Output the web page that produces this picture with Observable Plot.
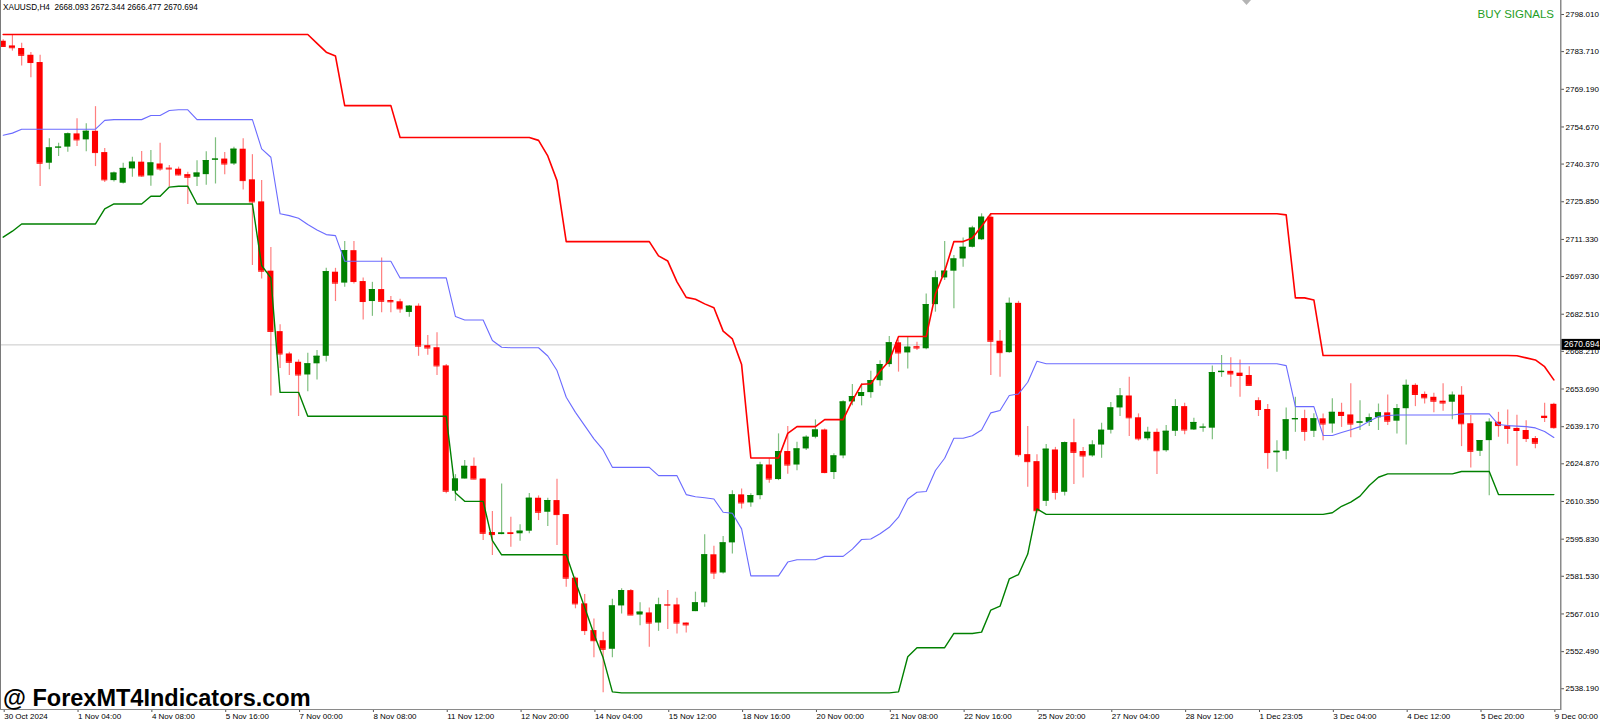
<!DOCTYPE html>
<html>
<head>
<meta charset="utf-8">
<script src="https://cdn.jsdelivr.net/npm/d3@7"></script>
<script src="https://cdn.jsdelivr.net/npm/@observablehq/plot@0.6"></script>
<style>
html,body{margin:0;padding:0;background:#fff;}
#chart{position:relative;width:1600px;height:723px;overflow:hidden;}
</style>
</head>
<body>
<div id="chart"></div>
<script>
const symbolText = "XAUUSD,H4\u00a0\u00a02668.093 2672.344 2666.477 2670.694";
const signalText = "BUY SIGNALS";
const watermarkText = "@ ForexMT4Indicators.com";
const currentPrice = 2670.694;

const priceTicks = [2798.01, 2783.71, 2769.19, 2754.67, 2740.37, 2725.85, 2711.33, 2697.03, 2682.51, 2668.21,
  2653.69, 2639.17, 2624.87, 2610.35, 2595.83, 2581.53, 2567.01, 2552.49, 2538.19];

const timeTickIndex = [0, 8, 16, 24, 32, 40, 48, 56, 64, 72, 80, 88, 96, 104, 112, 120, 128, 136, 144, 152, 160, 168];
const timeTickLabels = ["30 Oct 2024", "1 Nov 04:00", "4 Nov 08:00", "5 Nov 16:00", "7 Nov 00:00", "8 Nov 08:00",
  "11 Nov 12:00", "12 Nov 20:00", "14 Nov 04:00", "15 Nov 12:00", "18 Nov 16:00", "20 Nov 00:00", "21 Nov 08:00",
  "22 Nov 16:00", "25 Nov 20:00", "27 Nov 04:00", "28 Nov 12:00", "1 Dec 23:05", "3 Dec 04:00", "4 Dec 12:00",
  "5 Dec 20:00", "9 Dec 00:00"];

const openV = [
  2787.7, 2785.9, 2784.9, 2782.3, 2779.5, 2740.7, 2746.6, 2746.9, 2752.0, 2749.7,
  2753.0, 2744.8, 2734.0, 2733.0, 2738.5, 2741.1, 2735.8, 2740.4, 2738.8, 2738.4,
  2736.3, 2735.3, 2736.3, 2741.9, 2742.3, 2740.4, 2746.1, 2734.3, 2725.8, 2699.1,
  2675.8, 2667.2, 2664.0, 2659.1, 2663.4, 2666.3, 2698.7, 2694.5, 2707.0, 2695.1,
  2687.4, 2692.0, 2687.8, 2687.3, 2683.2, 2685.6, 2670.4, 2669.6, 2662.6, 2614.3,
  2619.0, 2623.9, 2619.0, 2598.4, 2597.6, 2598.3, 2597.9, 2598.9, 2611.6, 2606.2,
  2610.7, 2605.3, 2580.8, 2570.9, 2560.6, 2556.7, 2553.4, 2570.1, 2576.0, 2566.6,
  2567.4, 2563.5, 2570.6, 2570.5, 2563.5, 2567.9, 2571.3, 2589.8, 2582.8, 2594.4,
  2612.9, 2609.8, 2612.6, 2624.4, 2618.8, 2629.6, 2624.4, 2630.6, 2635.1, 2637.9,
  2621.5, 2627.9, 2648.7, 2650.8, 2652.3, 2656.9, 2663.1, 2671.5, 2667.6, 2670.0,
  2669.2, 2686.2, 2696.5, 2699.1, 2703.8, 2708.3, 2711.2, 2719.9, 2672.1, 2667.7,
  2686.7, 2628.4, 2625.7, 2610.4, 2630.2, 2613.9, 2633.0, 2629.6, 2627.9, 2632.1,
  2637.8, 2646.4, 2651.0, 2642.6, 2634.5, 2637.0, 2629.9, 2637.4, 2646.9, 2637.9,
  2638.7, 2638.6, 2660.0, 2660.5, 2659.8, 2658.9, 2649.2, 2645.8, 2629.1, 2629.7,
  2641.8, 2642.3, 2637.4, 2642.2, 2640.2, 2644.7, 2643.7, 2640.5, 2640.8, 2642.6,
  2644.5, 2641.3, 2646.1, 2655.1, 2651.6, 2650.5, 2649.0, 2648.6, 2651.3, 2640.3,
  2629.7, 2633.8, 2640.9, 2639.5, 2638.5, 2637.7, 2634.6, 2643.2, 2647.8];

const highV = [
  2788.3, 2790.3, 2786.9, 2783.4, 2782.3, 2750.1, 2748.4, 2752.3, 2757.8, 2755.9,
  2762.5, 2746.4, 2737.3, 2740.7, 2743.0, 2745.2, 2745.6, 2748.4, 2739.8, 2739.2,
  2737.2, 2741.7, 2745.1, 2750.5, 2744.8, 2746.9, 2750.1, 2744.0, 2734.0, 2708.2,
  2678.5, 2667.9, 2664.9, 2667.5, 2668.5, 2700.2, 2700.2, 2710.5, 2710.5, 2696.5,
  2694.8, 2704.2, 2689.3, 2688.3, 2685.9, 2686.5, 2674.3, 2675.4, 2663.1, 2620.7,
  2626.1, 2627.1, 2619.0, 2606.5, 2617.1, 2604.3, 2601.4, 2613.4, 2612.5, 2611.6,
  2618.9, 2605.3, 2581.2, 2574.5, 2565.1, 2560.0, 2572.7, 2576.7, 2576.4, 2571.3,
  2569.3, 2573.1, 2576.0, 2573.1, 2563.5, 2575.4, 2597.5, 2593.1, 2596.9, 2614.5,
  2615.2, 2613.3, 2625.5, 2626.8, 2636.4, 2639.2, 2633.2, 2635.7, 2641.8, 2638.3,
  2628.7, 2649.2, 2655.4, 2655.7, 2660.5, 2664.6, 2673.9, 2672.6, 2673.6, 2671.7,
  2690.3, 2699.1, 2710.5, 2705.1, 2711.9, 2716.4, 2721.2, 2721.2, 2676.2, 2688.8,
  2687.5, 2639.2, 2628.4, 2632.3, 2631.2, 2633.3, 2642.0, 2631.2, 2633.8, 2640.5,
  2648.5, 2653.9, 2658.2, 2644.1, 2639.0, 2638.3, 2639.6, 2649.6, 2648.2, 2642.4,
  2640.2, 2662.6, 2666.6, 2665.7, 2664.9, 2662.3, 2650.3, 2647.7, 2633.8, 2646.4,
  2650.5, 2645.5, 2644.2, 2644.1, 2649.9, 2648.2, 2655.7, 2649.2, 2644.1, 2647.9,
  2651.4, 2647.7, 2657.2, 2655.7, 2652.5, 2652.1, 2655.7, 2652.5, 2654.6, 2643.5,
  2633.8, 2642.2, 2644.7, 2645.6, 2643.6, 2641.5, 2635.4, 2648.2, 2648.2];

const lowV = [
  2785.4, 2783.9, 2778.2, 2773.6, 2731.7, 2738.2, 2743.3, 2744.9, 2747.1, 2745.1,
  2739.4, 2733.3, 2733.5, 2732.7, 2735.3, 2735.3, 2731.8, 2737.6, 2731.5, 2735.8,
  2724.8, 2731.7, 2732.2, 2732.7, 2736.3, 2739.8, 2730.4, 2701.3, 2696.1, 2651.0,
  2661.6, 2658.9, 2643.1, 2652.6, 2657.2, 2664.1, 2687.4, 2692.9, 2694.2, 2680.3,
  2681.7, 2683.1, 2683.1, 2682.9, 2681.3, 2666.3, 2666.7, 2658.9, 2613.3, 2610.4,
  2619.0, 2618.7, 2595.3, 2589.5, 2597.5, 2592.7, 2595.0, 2597.9, 2603.0, 2600.7,
  2593.4, 2577.3, 2569.0, 2558.7, 2550.1, 2536.6, 2550.1, 2567.0, 2566.4, 2562.5,
  2554.2, 2560.3, 2561.0, 2559.3, 2559.7, 2567.9, 2569.6, 2580.3, 2582.4, 2590.1,
  2607.5, 2608.1, 2611.0, 2617.4, 2618.4, 2620.8, 2622.2, 2630.0, 2634.5, 2621.0,
  2618.8, 2626.8, 2647.2, 2647.2, 2650.1, 2654.8, 2662.1, 2660.2, 2661.4, 2668.5,
  2668.8, 2683.3, 2695.5, 2684.6, 2700.6, 2708.0, 2710.9, 2658.9, 2658.2, 2667.5,
  2627.4, 2615.8, 2605.6, 2608.4, 2610.9, 2612.5, 2616.9, 2619.4, 2627.4, 2627.0,
  2636.4, 2643.1, 2635.4, 2633.6, 2633.8, 2620.7, 2629.3, 2635.4, 2636.1, 2637.7,
  2637.0, 2634.1, 2658.2, 2654.4, 2650.5, 2654.9, 2643.1, 2622.8, 2621.6, 2626.4,
  2637.0, 2633.6, 2635.0, 2633.8, 2636.6, 2638.9, 2634.9, 2637.7, 2639.2, 2637.7,
  2639.6, 2636.4, 2632.1, 2646.9, 2647.9, 2644.5, 2645.1, 2641.8, 2631.5, 2623.3,
  2627.7, 2612.6, 2635.1, 2632.4, 2623.9, 2633.1, 2630.7, 2640.8, 2638.2];

const closeV = [
  2785.7, 2785.2, 2782.3, 2779.5, 2740.7, 2746.6, 2746.9, 2752.0, 2749.7, 2753.0,
  2744.8, 2734.3, 2736.9, 2738.7, 2741.1, 2735.8, 2740.8, 2738.5, 2738.5, 2736.2,
  2735.3, 2736.9, 2741.7, 2742.3, 2740.4, 2746.1, 2734.0, 2725.8, 2699.1, 2675.9,
  2667.2, 2664.0, 2659.1, 2663.4, 2666.3, 2698.9, 2694.5, 2707.0, 2695.1, 2687.4,
  2692.0, 2687.5, 2687.3, 2684.6, 2685.6, 2670.2, 2669.5, 2662.6, 2614.3, 2619.0,
  2623.9, 2619.0, 2598.1, 2597.6, 2598.2, 2598.0, 2598.9, 2611.6, 2606.2, 2610.7,
  2605.3, 2580.8, 2570.9, 2560.6, 2556.7, 2553.4, 2570.1, 2576.0, 2566.6, 2567.7,
  2563.5, 2570.5, 2570.4, 2563.5, 2562.8, 2571.3, 2589.8, 2582.8, 2594.4, 2612.9,
  2609.8, 2612.6, 2624.4, 2619.0, 2629.6, 2624.4, 2630.6, 2635.1, 2637.9, 2621.5,
  2627.9, 2648.7, 2650.8, 2652.3, 2656.9, 2663.1, 2671.5, 2667.6, 2669.8, 2669.5,
  2686.2, 2696.5, 2699.1, 2703.8, 2708.3, 2715.7, 2719.9, 2672.1, 2667.7, 2686.7,
  2628.4, 2625.7, 2606.8, 2630.5, 2613.9, 2633.0, 2629.3, 2627.9, 2632.1, 2637.8,
  2646.4, 2651.0, 2642.6, 2634.5, 2637.0, 2629.9, 2637.4, 2646.9, 2637.9, 2640.8,
  2639.0, 2660.0, 2660.5, 2659.5, 2658.9, 2655.1, 2645.8, 2629.2, 2629.7, 2641.8,
  2642.3, 2637.4, 2642.2, 2640.2, 2644.7, 2643.5, 2640.2, 2641.0, 2642.6, 2644.5,
  2641.3, 2646.1, 2655.1, 2651.6, 2650.3, 2649.0, 2648.3, 2651.3, 2640.3, 2629.7,
  2633.8, 2640.9, 2639.6, 2638.5, 2637.7, 2634.6, 2632.8, 2642.7, 2638.8];

const upperBand = [
  2790.3, 2790.3, 2790.3, 2790.3, 2790.3, 2790.3, 2790.3, 2790.3, 2790.3, 2790.3,
  2790.3, 2790.3, 2790.3, 2790.3, 2790.3, 2790.3, 2790.3, 2790.3, 2790.3, 2790.3,
  2790.3, 2790.3, 2790.3, 2790.3, 2790.3, 2790.3, 2790.3, 2790.3, 2790.3, 2790.3,
  2790.3, 2790.3, 2790.3, 2790.3, 2786.9, 2783.5, 2782.0, 2762.9, 2762.9, 2762.9,
  2762.9, 2762.9, 2762.9, 2750.6, 2750.6, 2750.6, 2750.6, 2750.6, 2750.6, 2750.6,
  2750.6, 2750.6, 2750.6, 2750.6, 2750.6, 2750.6, 2750.6, 2750.6, 2749.5, 2743.5,
  2734.0, 2710.5, 2710.5, 2710.5, 2710.5, 2710.5, 2710.5, 2710.5, 2710.5, 2710.5,
  2710.5, 2705.0, 2703.0, 2695.0, 2689.0, 2688.3, 2686.5, 2685.0, 2676.0, 2673.0,
  2663.1, 2627.1, 2627.1, 2627.1, 2627.1, 2636.6, 2639.2, 2639.2, 2639.2, 2641.9,
  2641.9, 2641.9, 2649.2, 2655.5, 2655.7, 2660.5, 2664.6, 2673.9, 2673.9, 2673.9,
  2673.9, 2690.3, 2699.1, 2710.5, 2710.5, 2711.9, 2716.4, 2721.2, 2721.2, 2721.2,
  2721.2, 2721.2, 2721.2, 2721.2, 2721.2, 2721.2, 2721.2, 2721.2, 2721.2, 2721.2,
  2721.2, 2721.2, 2721.2, 2721.2, 2721.2, 2721.2, 2721.2, 2721.2, 2721.2, 2721.2,
  2721.2, 2721.2, 2721.2, 2721.2, 2721.2, 2721.2, 2721.2, 2721.2, 2721.2, 2720.8,
  2688.8, 2688.8, 2688.0, 2666.6, 2666.6, 2666.6, 2666.6, 2666.6, 2666.6, 2666.6,
  2666.6, 2666.6, 2666.6, 2666.6, 2666.6, 2666.6, 2666.6, 2666.6, 2666.6, 2666.6,
  2666.6, 2666.6, 2666.6, 2666.6, 2666.5, 2665.7, 2664.9, 2662.3, 2657.2];

const middleBand = [
  2751.5, 2752.3, 2753.8, 2753.8, 2753.8, 2753.8, 2753.8, 2753.8, 2753.8, 2753.8,
  2753.8, 2757.2, 2757.5, 2757.5, 2757.5, 2757.5, 2759.1, 2759.1, 2761.0, 2761.3,
  2761.3, 2757.5, 2757.5, 2757.5, 2757.5, 2757.5, 2757.5, 2757.5, 2746.2, 2743.0,
  2721.2, 2720.5, 2719.5, 2717.1, 2715.0, 2713.2, 2712.8, 2702.9, 2702.9, 2702.9,
  2702.9, 2702.9, 2702.9, 2696.5, 2696.5, 2696.5, 2696.5, 2696.5, 2696.5, 2681.6,
  2680.3, 2680.3, 2680.3, 2672.4, 2669.8, 2669.6, 2669.6, 2669.6, 2669.6, 2666.4,
  2660.8, 2650.5, 2644.7, 2639.6, 2634.5, 2630.2, 2623.5, 2623.5, 2623.5, 2623.5,
  2623.5, 2620.3, 2620.3, 2620.3, 2613.0, 2612.2, 2611.8, 2611.3, 2606.2, 2605.8,
  2599.8, 2581.7, 2581.7, 2581.7, 2581.7, 2587.0, 2587.9, 2587.9, 2587.9, 2589.2,
  2589.2, 2589.2, 2592.0, 2595.7, 2595.9, 2597.9, 2600.4, 2604.3, 2611.3, 2613.9,
  2614.2, 2622.3, 2627.0, 2634.7, 2634.7, 2635.7, 2637.9, 2644.5, 2645.4, 2651.2,
  2651.8, 2656.3, 2664.4, 2663.4, 2663.4, 2663.4, 2663.4, 2663.4, 2663.4, 2663.4,
  2663.4, 2663.4, 2663.4, 2663.4, 2663.4, 2663.4, 2663.4, 2663.4, 2663.4, 2663.4,
  2663.4, 2663.4, 2663.4, 2663.4, 2663.4, 2663.4, 2663.4, 2663.4, 2663.4, 2662.7,
  2646.9, 2646.9, 2646.9, 2635.8, 2635.8, 2636.9, 2638.0, 2639.2, 2641.3, 2643.1,
  2643.5, 2643.7, 2643.7, 2643.7, 2643.7, 2643.7, 2643.7, 2643.7, 2644.1, 2644.1,
  2644.1, 2644.1, 2640.0, 2639.6, 2639.4, 2639.2, 2638.7, 2637.3, 2635.0];

const lowerBand = [
  2712.2, 2714.5, 2717.3, 2717.3, 2717.3, 2717.3, 2717.3, 2717.3, 2717.3, 2717.3,
  2717.3, 2723.1, 2725.0, 2725.0, 2725.0, 2725.0, 2728.0, 2728.0, 2731.5, 2731.8,
  2731.8, 2725.0, 2725.0, 2725.0, 2725.0, 2725.0, 2725.0, 2725.0, 2701.3, 2696.5,
  2652.4, 2652.4, 2652.4, 2643.2, 2643.2, 2643.2, 2643.2, 2643.2, 2643.2, 2643.2,
  2643.2, 2643.2, 2643.2, 2643.2, 2643.2, 2643.2, 2643.2, 2643.2, 2643.2, 2613.6,
  2610.4, 2610.4, 2610.4, 2595.3, 2589.8, 2589.8, 2589.8, 2589.8, 2589.8, 2589.8,
  2589.8, 2589.8, 2579.5, 2569.5, 2559.3, 2550.1, 2537.0, 2536.6, 2536.6, 2536.6,
  2536.6, 2536.6, 2536.6, 2536.6, 2536.6, 2536.6, 2536.6, 2536.6, 2536.6, 2536.6,
  2536.6, 2536.6, 2536.6, 2536.6, 2536.6, 2536.6, 2536.6, 2536.6, 2536.6, 2536.6,
  2536.6, 2536.6, 2536.6, 2536.6, 2536.6, 2536.6, 2536.6, 2537.0, 2550.5, 2554.0,
  2554.0, 2554.0, 2554.0, 2559.5, 2559.5, 2559.5, 2560.0, 2568.5, 2570.0, 2580.5,
  2582.2, 2590.1, 2607.5, 2605.4, 2605.4, 2605.4, 2605.4, 2605.4, 2605.4, 2605.4,
  2605.4, 2605.4, 2605.4, 2605.4, 2605.4, 2605.4, 2605.4, 2605.4, 2605.4, 2605.4,
  2605.4, 2605.4, 2605.4, 2605.4, 2605.4, 2605.4, 2605.4, 2605.4, 2605.4, 2605.4,
  2605.4, 2605.4, 2605.4, 2605.4, 2606.0, 2608.5, 2610.1, 2612.4, 2616.5, 2619.7,
  2621.0, 2621.0, 2621.0, 2621.0, 2621.0, 2621.0, 2621.0, 2621.0, 2621.9, 2621.9,
  2621.9, 2621.9, 2613.0, 2613.0, 2613.0, 2613.0, 2613.0, 2613.0, 2613.0];

// ---- build tables ----
const BULL = "#008000", BEAR = "#ff0000";
const bars = openV.map((o, i) => ({
  i, open: o, high: highV[i], low: lowV[i], close: closeV[i],
  color: closeV[i] >= o ? BULL : BEAR
}));
const bands = upperBand.map((u, i) => ({i, upper: u, middle: middleBand[i], lower: lowerBand[i]}));
const labelByIndex = new Map(timeTickIndex.map((t, k) => [t, timeTickLabels[k]]));
const HALF = 0.33;
const FONT = "'Liberation Sans', Arial, sans-serif";

const plot = Plot.plot({
  width: 1600,
  height: 723,
  marginTop: 0,
  marginRight: 40,
  marginBottom: 14,
  marginLeft: 0,
  style: {fontFamily: FONT, fontSize: "8px", background: "#fff", color: "#000", overflow: "visible"},
  x: {type: "linear", domain: [-0.2925, 168.72]},
  y: {type: "linear", domain: [2530.19, 2803.405]},
  marks: [
    Plot.ruleY([currentPrice], {stroke: "#c8c8c8", strokeWidth: 1}),
    Plot.ruleX(bars, {x: "i", y1: "low", y2: "high", stroke: "color", strokeOpacity: 0.5, strokeWidth: 1.2}),
    Plot.rect(bars, {x1: d => d.i - HALF, x2: d => d.i + HALF, y1: "open", y2: "close", fill: "color"}),
    Plot.ruleY(bars, {y: "close", x1: d => d.i - HALF, x2: d => d.i + HALF, stroke: "color", strokeWidth: 1}),
    Plot.line(bands, {x: "i", y: "lower", stroke: "#008000", strokeWidth: 1.4}),
    Plot.line(bands, {x: "i", y: "middle", stroke: "#6b6bff", strokeWidth: 1.1}),
    Plot.line(bands, {x: "i", y: "upper", stroke: "#ff0000", strokeWidth: 1.6}),
    Plot.axisY({anchor: "right", ticks: priceTicks, tickFormat: d3.format(".3f"), tickSize: 3, tickPadding: 2,
      label: null, fontSize: 8, stroke: "#555"}),
    Plot.axisX({anchor: "bottom", ticks: timeTickIndex, tickFormat: d => labelByIndex.get(d), tickSize: 3,
      tickPadding: 1, textAnchor: "start", dx: 1, label: null, fontSize: 8, stroke: "#555"})
  ]
});

document.getElementById("chart").appendChild(plot);

// ---- chart frame & overlays ----
const svg = d3.select(plot);
const ys = plot.scale("y");
const yCur = ys.apply(currentPrice);
const deco = svg.append("g").attr("text-anchor", "start");
deco.append("line").attr("x1", 0.5).attr("x2", 0.5).attr("y1", 0).attr("y2", 709).attr("stroke", "#7a7a7a");
deco.append("line").attr("x1", 1560.75).attr("x2", 1560.75).attr("y1", 0).attr("y2", 710).attr("stroke", "#8a8a8a").attr("stroke-width", 1.5);
deco.append("line").attr("x1", 0).attr("x2", 1561).attr("y1", 709.5).attr("y2", 709.5).attr("stroke", "#8a8a8a").attr("stroke-width", 1.2);
deco.append("path").attr("d", "M1242,0 L1251,0 L1246.5,5 Z").attr("fill", "#b4b4b4");
deco.append("rect").attr("x", 1561.5).attr("y", yCur - 5.5).attr("width", 38.5).attr("height", 11).attr("fill", "#000");
deco.append("text").attr("x", 1564).attr("y", yCur).attr("dy", "0.35em").attr("fill", "#fff")
  .attr("text-anchor", "start").attr("font-family", FONT).attr("font-size", 8.5)
  .text(d3.format(".3f")(currentPrice));
deco.append("text").attr("x", 3).attr("y", 9.5).attr("fill", "#000")
  .attr("text-anchor", "start").attr("font-family", FONT).attr("font-size", 8.2).text(symbolText);
deco.append("text").attr("x", 1554).attr("y", 17.5).attr("text-anchor", "end").attr("fill", "#1f9e1f")
  .attr("font-family", FONT).attr("font-size", 11.5).text(signalText);
deco.append("text").attr("x", 3).attr("y", 706).attr("fill", "#000")
  .attr("text-anchor", "start").attr("font-family", FONT).attr("font-weight", "bold").attr("font-size", 23.5)
  .text(watermarkText);
</script>
</body>
</html>
